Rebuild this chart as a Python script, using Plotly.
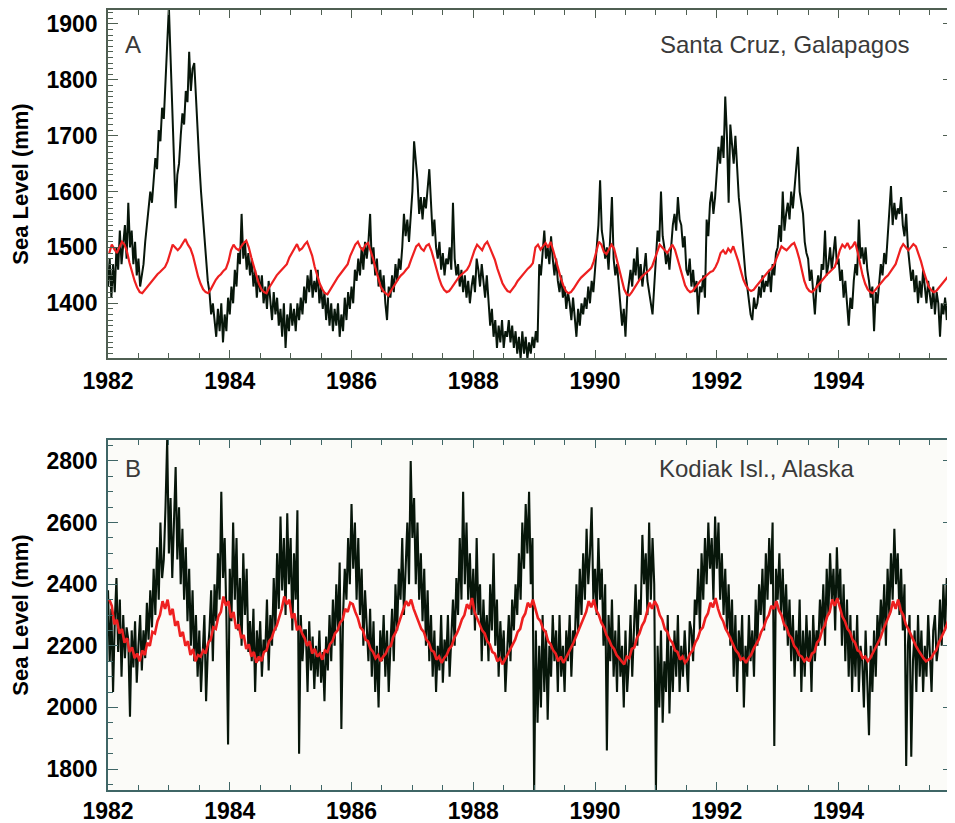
import plotly.graph_objects as go
from plotly.subplots import make_subplots

# ---------------- data ----------------
tick_years = [1982, 1984, 1986, 1988, 1990, 1992, 1994]
tick_labels = ["1982", "1984", "1986", "1988", "1990", "1992", "1994"]
start_year = 1982
obs_per_year = 36   # ~10-day samples
fit_per_year = 24   # half-month samples

# Santa Cruz, Galapagos - observed sea level (mm)
galapagos_obs = [
    1430,1480,1410, 1470,1420,1500, 1460,1530,1470, 1500,1540,1480, 1580,1500,1530, 1470,1510,1450, 1480,1430,1450, 1470,1510,1540, 1560,1600,1580, 1620,1660,1640, 1710,1690,1750, 1730,1800,1870,
    1930,1840,1760, 1660,1570,1630, 1650,1700,1740, 1720,1780,1760, 1850,1780,1820, 1830,1760,1700, 1650,1600,1560, 1530,1480,1440, 1420,1380,1400, 1370,1340,1390, 1350,1400,1330, 1380,1350,1410,
    1380,1430,1400, 1460,1430,1490, 1470,1560,1480, 1510,1460,1490, 1450,1480,1430, 1460,1410,1450, 1420,1450,1400, 1430,1390,1440, 1400,1370,1420, 1380,1410,1360, 1390,1340,1400, 1320,1380,1350,
    1400,1360,1390, 1350,1400,1370, 1410,1380,1430, 1400,1450,1420, 1460,1410,1440, 1420,1460,1400, 1430,1390,1420, 1370,1410,1360, 1400,1350,1390, 1360,1400,1340, 1380,1350,1410, 1370,1420,1390,
    1430,1400,1460, 1440,1480,1450, 1500,1460,1510, 1480,1510,1560, 1470,1500,1450, 1480,1430,1460, 1420,1450,1400, 1370,1430,1410, 1450,1420,1470, 1440,1480,1460, 1500,1560,1520, 1550,1510,1560,
    1600,1690,1650, 1620,1560,1590, 1550,1590,1570, 1610,1640,1580, 1520,1550,1500, 1480,1510,1460, 1490,1450,1480, 1470,1500,1460, 1580,1480,1450, 1470,1430,1460, 1420,1450,1410, 1440,1400,1430,
    1450,1420,1480, 1460,1430,1470, 1440,1410,1450, 1400,1360,1390, 1340,1370,1320, 1360,1330,1370, 1320,1350,1340, 1370,1330,1360, 1320,1350,1310, 1340,1300,1350, 1310,1340,1300, 1330,1310,1340,
    1320,1350,1330, 1470,1450,1490, 1530,1480,1500, 1470,1520,1480, 1450,1480,1440, 1420,1450,1410, 1430,1390,1420, 1400,1370,1410, 1380,1340,1390, 1360,1400,1380, 1410,1390,1430, 1400,1440,1420,
    1460,1500,1540, 1620,1530,1510, 1480,1500,1460, 1520,1590,1480, 1450,1470,1430, 1400,1360,1390, 1340,1410,1440, 1460,1430,1480, 1450,1500,1440, 1470,1430,1460, 1490,1440,1420, 1400,1380,1430,
    1480,1530,1510, 1600,1520,1500, 1470,1490,1460, 1510,1540,1560, 1530,1590,1550, 1540,1500,1520, 1460,1450,1480, 1430,1460,1420, 1440,1380,1430, 1420,1450,1410, 1550,1520,1580, 1600,1560,1590,
    1630,1680,1650, 1700,1660,1770, 1700,1580,1720, 1680,1650,1700, 1640,1590,1560, 1520,1480,1450, 1430,1400,1380, 1370,1410,1390, 1400,1430,1410, 1450,1420,1440, 1430,1460,1420, 1470,1450,1490,
    1500,1540,1510, 1600,1530,1560, 1580,1550,1600, 1570,1610,1640, 1680,1600,1580, 1560,1510,1490, 1480,1440,1460, 1420,1380,1430, 1450,1420,1470, 1460,1530,1450, 1470,1500,1460, 1490,1520,1470,
    1480,1440,1460, 1410,1440,1400, 1360,1410,1390, 1440,1470,1450, 1550,1480,1500, 1470,1500,1460, 1440,1410,1430, 1350,1420,1400, 1440,1470,1450, 1490,1470,1520, 1550,1610,1540, 1580,1550,1570,
    1560,1590,1540, 1520,1560,1500, 1470,1440,1460, 1420,1450,1400, 1440,1410,1460, 1430,1400,1440, 1410,1390,1430, 1380,1420,1400, 1340,1400,1380, 1410,1370,1420, 1390,1350,1410, 1400,1380,1420,
]

# Santa Cruz, Galapagos - modelled / fitted sea level (mm)
galapagos_fit = [
    1490,1505,1497,1490,1500,1510,1505,1492,1472,1455,1440,1428,1420,1418,1424,1430,1436,1441,1446,1452,1456,1460,1465,1475,
    1490,1505,1500,1495,1500,1508,1515,1505,1498,1485,1465,1448,1435,1425,1420,1418,1425,1435,1442,1448,1452,1458,1462,1475,
    1495,1505,1498,1495,1502,1508,1512,1500,1482,1468,1450,1435,1425,1420,1418,1428,1436,1444,1450,1455,1460,1466,1470,1482,
    1490,1500,1506,1495,1498,1505,1510,1498,1485,1465,1448,1435,1425,1418,1416,1424,1432,1440,1446,1452,1458,1463,1470,1485,
    1495,1505,1510,1500,1495,1505,1508,1495,1480,1462,1445,1430,1422,1418,1414,1422,1430,1437,1444,1450,1454,1460,1465,1478,
    1490,1502,1506,1498,1494,1503,1506,1494,1478,1460,1445,1432,1424,1420,1422,1428,1435,1442,1448,1452,1456,1460,1468,1482,
    1495,1505,1500,1495,1505,1510,1500,1490,1478,1462,1448,1436,1428,1422,1420,1425,1432,1440,1446,1452,1458,1462,1466,1472,
    1500,1505,1496,1502,1508,1500,1510,1495,1478,1460,1445,1432,1422,1418,1420,1426,1434,1440,1446,1450,1454,1458,1463,1475,
    1495,1510,1505,1492,1488,1498,1505,1498,1480,1460,1440,1425,1416,1414,1420,1428,1436,1442,1448,1452,1456,1460,1466,1478,
    1490,1505,1500,1494,1490,1498,1505,1496,1480,1462,1446,1432,1424,1420,1422,1428,1435,1440,1444,1448,1452,1456,1458,1465,
    1475,1490,1495,1488,1498,1492,1502,1490,1475,1458,1442,1432,1425,1422,1424,1430,1436,1442,1448,1452,1458,1462,1468,1480,
    1492,1502,1498,1495,1500,1505,1508,1496,1480,1460,1440,1428,1422,1420,1424,1430,1436,1442,1447,1452,1456,1460,1465,1478,
    1495,1505,1500,1508,1498,1502,1510,1492,1470,1450,1435,1425,1420,1418,1424,1430,1436,1440,1446,1450,1456,1462,1470,1484,
    1498,1506,1500,1495,1500,1506,1502,1490,1475,1458,1442,1430,1424,1420,1422,1428,1434,1440,1444,1450,1452,1456,1460,1465,
]

# Kodiak Isl., Alaska - observed sea level (mm)
kodiak_obs = [
    2380,2150,2320, 2050,2280,2420, 2180,2350,2100, 2300,2160,2260, 2220,1970,2250, 2130,2280,2080, 2200,2300,2120, 2250,2160,2340, 2220,2380,2260, 2450,2300,2520, 2350,2600,2420, 2480,2650,2870,
    2500,2680,2420, 2600,2780,2480, 2650,2400,2580, 2350,2520,2280, 2450,2200,2380, 2150,2300,2100, 2250,2050,2200, 2300,2020,2180, 2250,2380,2150, 2400,2280,2500, 2350,2700,2420, 2550,2300,1880,
    2450,2280,2600, 2350,2550,2250, 2420,2200,2500, 2300,2450,2180, 2280,2150,2320, 2050,2250,2150, 2280,2100,2220, 2180,2350,2120, 2300,2200,2420, 2250,2500,2320, 2620,2380,2550, 2300,2630,2400,
    2550,2250,2500, 2350,2640,1850, 2300,2150,2250, 2250,2050,2280, 2120,2230,2060, 2200,2100,2250, 2080,2180,2020, 2230,2120,2300, 2150,2350,2200, 2400,2250,2470, 1930,2300,2450, 2350,2550,2400,
    2660,2450,2600, 2350,2550,2300, 2450,2200,2380, 2250,2150,2320, 2100,2280,2050, 2200,2000,2250, 2150,2300,2100, 2250,2050,2200, 2320,2150,2400, 2250,2450,2350, 2550,2300,2480, 2600,2400,2800,
    2550,2680,2400, 2600,2350,2500, 2280,2450,2200, 2380,2150,2300, 2100,2250,2050, 2200,2120,2300, 2080,2220,2150, 2300,2100,2250, 2350,2200,2420, 2300,2550,2350, 2700,2400,2600, 2350,2500,2300,
    2450,2250,2550, 2300,2400,2150, 2350,2200,2300, 2150,2400,2250, 2500,2200,2350, 2100,2280,2150, 2250,2050,2200, 2300,2150,2350, 2250,2400,2300, 2500,2350,2600, 2450,2660,2500, 2700,2400,2550,
    1730,2250,1950, 2200,2000,2300, 2050,2250,1960, 2200,2100,2300, 2150,2250,2050, 2300,2100,2200, 2050,2250,2150, 2300,2100,2250, 2200,2400,2250, 2450,2300,2500, 2350,2580,2400, 2500,2650,2350,
    2450,2300,2550, 2350,2450,2200, 2400,1860,2300, 2150,2350,2100, 2250,2050,2300, 2100,2200,2000, 2250,2050,2150, 2300,2100,2250, 2400,2200,2350, 2300,2560,2400, 2500,2300,2600, 2350,2550,2400,
    1730,2200,2000, 2250,1950,2150, 2050,2300,1980, 2200,2050,2250, 2100,2300,2050, 2200,2100,2250, 2150,2050,2280, 2250,2150,2350, 2300,2450,2250, 2500,2350,2550, 2400,2600,2450, 2550,2350,2620,
    2450,2600,2350, 2500,2300,2450, 2250,2400,2200, 2350,2100,2300, 2050,2250,2150, 2300,2000,2200, 2100,2300,2150, 2250,2100,2350, 2200,2400,2300, 2450,2250,2500, 2350,2550,2400, 2600,1875,2450,
    2350,2500,2300, 2450,2250,2400, 2200,2350,2150, 2300,2100,2250, 2150,2350,2050, 2250,2100,2300, 2150,2250,2050, 2300,2150,2250, 2200,2350,2250, 2400,2200,2450, 2300,2500,2350, 2450,2250,2520,
    2350,2450,2200, 2400,2150,2350, 2100,2300,2050, 2250,2100,2300, 2050,2200,2150, 2000,2250,2100, 1910,2200,2050, 2250,2100,2300, 2200,2350,2250, 2400,2200,2450, 2300,2500,2350, 2580,2400,2500,
    2300,2450,2250, 2400,1810,2200, 2300,1840,2150, 2250,2050,2300, 2100,2250,2050, 2200,2100,2300, 2150,2050,2250, 2300,2150,2200, 2350,2200,2400, 2250,2420,2300, 2450,2250,2400, 2300,2350,2250,
]

# Kodiak Isl., Alaska - modelled / fitted sea level (mm)
kodiak_fit = [
    2350,2330,2270,2285,2240,2255,2210,2225,2180,2195,2160,2175,2150,2185,2170,2210,2200,2245,2240,2280,2300,2345,2320,2350,
    2300,2320,2265,2280,2230,2245,2200,2215,2170,2190,2150,2170,2165,2185,2175,2210,2220,2260,2255,2295,2310,2360,2330,2345,
    2290,2310,2255,2270,2225,2235,2190,2205,2165,2180,2145,2165,2150,2180,2185,2215,2225,2250,2265,2295,2320,2360,2335,2350,
    2290,2305,2250,2265,2240,2225,2200,2215,2175,2190,2165,2175,2155,2185,2180,2205,2215,2240,2250,2275,2285,2320,2310,2340,
    2335,2310,2290,2260,2250,2220,2215,2190,2180,2160,2170,2150,2165,2175,2195,2200,2230,2245,2270,2290,2320,2345,2330,2350,
    2320,2300,2280,2255,2245,2220,2210,2185,2180,2155,2165,2145,2160,2170,2190,2200,2225,2240,2260,2285,2300,2335,2320,2355,
    2310,2290,2275,2250,2240,2215,2205,2180,2175,2150,2160,2140,2155,2170,2185,2205,2220,2245,2255,2290,2305,2340,2325,2350,
    2320,2290,2280,2255,2245,2215,2205,2185,2175,2150,2165,2145,2160,2175,2190,2210,2230,2250,2265,2290,2310,2345,2325,2350,
    2315,2300,2275,2260,2235,2220,2200,2190,2170,2160,2150,2140,2165,2160,2190,2195,2225,2240,2265,2280,2310,2340,2320,2345,
    2330,2300,2285,2255,2245,2220,2210,2185,2180,2155,2165,2145,2155,2175,2185,2210,2225,2250,2260,2290,2305,2340,2325,2355,
    2320,2295,2280,2255,2240,2220,2200,2185,2175,2155,2160,2145,2160,2170,2190,2205,2220,2245,2260,2285,2300,2330,2320,2345,
    2315,2300,2270,2260,2235,2225,2200,2190,2170,2165,2150,2160,2150,2175,2180,2210,2220,2250,2265,2295,2310,2350,2330,2355,
    2320,2295,2280,2255,2245,2220,2210,2185,2180,2160,2165,2150,2160,2175,2190,2210,2225,2250,2270,2295,2310,2345,2320,2350,
    2315,2300,2270,2255,2235,2220,2200,2185,2170,2160,2150,2155,2160,2175,2185,2210,2225,2245,2265,2290,2300,2320,2310,2330,
]

# ---------------- build figure ----------------
def times(n, per_year, offset=0.0):
    return [start_year + (i + offset) / per_year for i in range(n)]

fig = make_subplots(rows=2, cols=1)

obs_color = "#07160a"
fit_color = "#ee2020"

fig.add_trace(go.Scatter(x=times(len(galapagos_obs), obs_per_year), y=galapagos_obs,
                         mode="lines", line=dict(color=obs_color, width=2.0), showlegend=False), row=1, col=1)
fig.add_trace(go.Scatter(x=times(len(galapagos_fit), fit_per_year, 0.5), y=galapagos_fit,
                         mode="lines", line=dict(color=fit_color, width=2.2), showlegend=False), row=1, col=1)
fig.add_trace(go.Scatter(x=times(len(kodiak_obs), obs_per_year), y=kodiak_obs,
                         mode="lines", line=dict(color=obs_color, width=2.1), showlegend=False), row=2, col=1)
fig.add_trace(go.Scatter(x=times(len(kodiak_fit), fit_per_year, 0.5), y=kodiak_fit,
                         mode="lines", line=dict(color=fit_color, width=2.6), showlegend=False), row=2, col=1)

tick_font = dict(family="Liberation Sans, Arial, sans-serif", size=23, color="#000000", weight="bold")
axis_top = "#4f5f52"
axis_bot = "#3f6666"

fig.update_yaxes(row=1, col=1, domain=[0.5538, 1.0])
fig.update_yaxes(row=2, col=1, domain=[0.0, 0.4487])

for r, col, standoff in [(1, axis_top, 2), (2, axis_bot, 0)]:
    fig.update_xaxes(row=r, col=1, range=[1982, 1995.88], tickmode="array",
                     tickvals=tick_years, ticktext=tick_labels, automargin=False,
                     ticks="inside", ticklen=8, tickwidth=1, tickcolor=col,
                     showline=True, linecolor=col, linewidth=1.5, mirror="ticks",
                     showgrid=False, zeroline=False, tickfont=tick_font,
                     ticklabelstandoff=standoff,
                     minor=dict(dtick=0.5, tick0=1982, ticks="inside", ticklen=5, tickcolor=col, showgrid=False))

fig.update_yaxes(row=1, col=1, range=[1302, 1925], dtick=100, tick0=1400,
                 minor=dict(dtick=10, tick0=1300, ticks="inside", ticklen=5, tickcolor=axis_top, showgrid=False))
fig.update_yaxes(row=2, col=1, range=[1732, 2868], dtick=200, tick0=1800,
                 minor=dict(dtick=50, tick0=1750, ticks="inside", ticklen=5, tickcolor=axis_bot, showgrid=False))
for r, col in [(1, axis_top), (2, axis_bot)]:
    fig.update_yaxes(row=r, col=1, ticks="inside", ticklen=10, tickwidth=1, tickcolor=col,
                     showline=True, linecolor=col, linewidth=1.5, mirror="ticks", automargin=False,
                     showgrid=False, zeroline=False, tickfont=tick_font, ticklabelstandoff=4,
                     title=dict(text="Sea Level (mm)", standoff=14,
                                font=dict(family="Liberation Sans, Arial, sans-serif", size=22,
                                          color="#000000", weight="bold")))

label_font = dict(family="Liberation Sans, Arial, sans-serif", size=24, color="#3a3a3a")
fig.add_annotation(text="A", xref="x domain", yref="y domain", x=0.018, y=0.90,
                   xanchor="left", yanchor="middle", showarrow=False, font=label_font)
fig.add_annotation(text="Santa Cruz, Galapagos", xref="x domain", yref="y domain", x=0.651, y=0.90,
                   xanchor="left", yanchor="middle", showarrow=False, font=label_font)
fig.add_annotation(text="B", xref="x2 domain", yref="y2 domain", x=0.018, y=0.92,
                   xanchor="left", yanchor="middle", showarrow=False, font=label_font)
fig.add_annotation(text="Kodiak Isl., Alaska", xref="x2 domain", yref="y2 domain", x=0.650, y=0.92,
                   xanchor="left", yanchor="middle", showarrow=False, font=label_font)

# light background tint of lower panel and dotted right border of upper panel
fig.add_shape(type="rect", xref="x2 domain", yref="y2 domain", x0=0, x1=1, y0=0, y1=1,
              fillcolor="#fbfbf8", line=dict(width=0), layer="below")
fig.add_shape(type="line", xref="x domain", yref="y domain", x0=1, x1=1, y0=0, y1=1,
              line=dict(color="#e07070", width=1, dash="dot"))

# the page body adds an 8 px offset, so the figure is 8 px smaller on each axis
fig.update_layout(width=947, height=815, margin=dict(l=100, r=2, t=2, b=33, autoexpand=False),
                  paper_bgcolor="white", plot_bgcolor="white", showlegend=False)

fig.write_html("out.html")
